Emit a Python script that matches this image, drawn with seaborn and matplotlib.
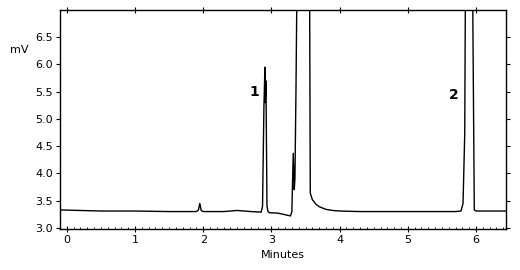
import matplotlib
matplotlib.use("Agg")
import matplotlib.pyplot as plt
import seaborn as sns
import pandas as pd
from matplotlib.ticker import MultipleLocator, FormatStrFormatter

# Chromatogram trace (minutes, mV)
minutes = [-0.10, 0.50, 1.00, 1.50, 1.90, 1.93, 1.95, 1.97, 2.00, 2.30, 2.50, 2.70,
           2.85, 2.87, 2.89, 2.905, 2.91, 2.92, 2.935, 2.95, 2.97, 3.10, 3.28, 3.30,
           3.32, 3.335, 3.345, 3.36, 3.375, 3.56, 3.57, 3.60, 3.65, 3.70, 3.80, 3.90,
           4.00, 4.30, 5.00, 5.70, 5.78, 5.81, 5.835, 5.845, 5.95, 5.975, 6.00, 6.44]
mv = [3.33, 3.31, 3.31, 3.30, 3.30, 3.33, 3.45, 3.32, 3.30, 3.30, 3.32, 3.30,
      3.29, 3.40, 5.20, 5.95, 5.30, 5.70, 3.40, 3.30, 3.28, 3.27, 3.22, 3.30,
      4.37, 3.70, 3.90, 5.50, 7.50, 7.50, 3.64, 3.52, 3.44, 3.39, 3.34, 3.32,
      3.31, 3.30, 3.30, 3.30, 3.31, 3.45, 4.74, 7.50, 7.50, 3.33, 3.31, 3.31]

peak_labels = ["1", "2"]
peak_x = [2.75, 5.67]
peak_y = [5.49, 5.44]

y_ticks = [3.0, 3.5, 4.0, 4.5, 5.0, 5.5, 6.0, 6.5]
x_ticks = [0, 1, 2, 3, 4, 5, 6]

df = pd.DataFrame({"Minutes": minutes, "mV": mv})

sns.set_style("ticks")
plt.rcParams["font.family"] = ["DejaVu Sans"]
plt.rcParams["text.color"] = "black"
plt.rcParams["axes.labelcolor"] = "black"
plt.rcParams["xtick.color"] = "black"
plt.rcParams["ytick.color"] = "black"

fig = plt.figure(figsize=(5.2, 2.7), dpi=100)
ax = fig.add_axes([60 / 520, 1 - 229 / 270, 446 / 520, 219 / 270])

sns.lineplot(data=df, x="Minutes", y="mV", ax=ax, color="black", linewidth=1.0,
             sort=False, estimator=None)

ax.set_xlim(-0.10, 6.44)
ax.set_ylim(2.98, 7.0)
ax.set_xticks(x_ticks)
ax.set_yticks(y_ticks)
ax.yaxis.set_major_formatter(FormatStrFormatter("%.1f"))
ax.xaxis.set_minor_locator(MultipleLocator(0.1))

for s in ax.spines.values():
    s.set_visible(True)
    s.set_linewidth(1.0)
    s.set_color("black")

ax.tick_params(axis="both", labelsize=8, colors="black", length=3, width=0.8, pad=2)
ax.tick_params(axis="x", which="major", direction="inout", length=4, top=True,
               labeltop=False)
ax.tick_params(axis="x", which="minor", direction="in", length=1.5, width=0.6,
               top=False)
ax.tick_params(axis="y", direction="out", right=True)

ax.set_xlabel("Minutes", fontsize=8, labelpad=4, color="black")
ax.set_ylabel("")
fig.text(10 / 520, 1 - 50 / 270, "mV", fontsize=8, va="center", ha="left",
         color="black")

for lab, px, py in zip(peak_labels, peak_x, peak_y):
    ax.text(px, py, lab, fontsize=10, fontweight="bold", ha="center", va="center",
            color="black")

fig.savefig("out.png", dpi=100)
